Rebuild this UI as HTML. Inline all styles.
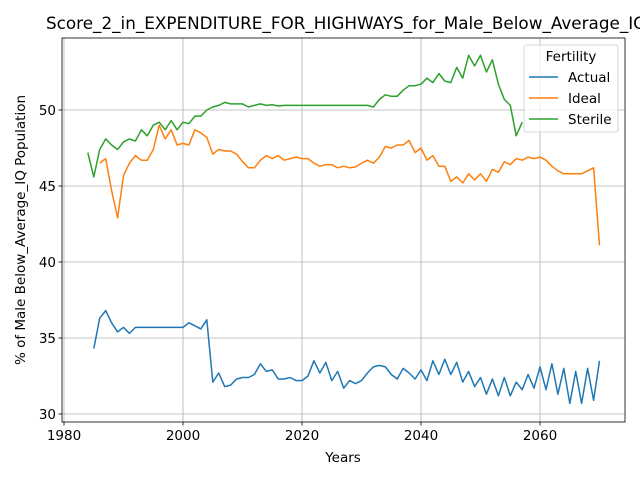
<!DOCTYPE html>
<html><head><meta charset="utf-8"><style>
body{margin:0;background:#fff;}
svg{display:block;font-family:"DejaVu Sans","Liberation Sans",sans-serif;}
</style></head><body>
<svg id="chart" width="640" height="480"></svg>
<script>
const actualYears=[];for(let y=1985;y<=2070;y++)actualYears.push(y);
const actualValues=[34.3,36.3,36.8,36.0,35.4,35.7,35.3,35.7,35.7,35.7,35.7,35.7,35.7,35.7,35.7,35.7,36.0,35.8,35.6,36.2,32.1,32.7,31.8,31.9,32.3,32.4,32.4,32.6,33.3,32.8,32.9,32.3,32.3,32.4,32.2,32.2,32.5,33.5,32.7,33.4,32.2,32.8,31.7,32.2,32.0,32.2,32.7,33.1,33.2,33.1,32.6,32.3,33.0,32.7,32.3,32.9,32.2,33.5,32.6,33.6,32.6,33.4,32.1,32.8,31.8,32.4,31.3,32.3,31.2,32.4,31.2,32.1,31.6,32.6,31.7,33.1,31.6,33.3,31.3,33.0,30.7,32.8,30.7,33.0,30.9,33.5];
const idealYears=[];for(let y=1986;y<=2070;y++)idealYears.push(y);
const idealValues=[46.5,46.8,44.7,42.9,45.7,46.5,47.0,46.7,46.7,47.4,49.0,48.1,48.7,47.7,47.8,47.7,48.7,48.5,48.2,47.1,47.4,47.3,47.3,47.1,46.6,46.2,46.2,46.7,47.0,46.8,47.0,46.7,46.8,46.9,46.8,46.8,46.5,46.3,46.4,46.4,46.2,46.3,46.2,46.25,46.5,46.7,46.5,46.9,47.6,47.5,47.7,47.7,48.0,47.2,47.5,46.7,47.0,46.3,46.3,45.3,45.6,45.2,45.8,45.4,45.8,45.3,46.1,45.9,46.6,46.4,46.8,46.7,46.9,46.8,46.9,46.7,46.3,46.0,45.8,45.8,45.8,45.8,46.0,46.2,41.1];
const sterileYears=[];for(let y=1984;y<=2057;y++)sterileYears.push(y);
const sterileValues=[47.2,45.6,47.4,48.1,47.7,47.4,47.9,48.1,47.96,48.7,48.3,49.0,49.2,48.7,49.3,48.7,49.2,49.1,49.6,49.6,50.0,50.2,50.3,50.5,50.4,50.4,50.4,50.2,50.3,50.4,50.3,50.35,50.26,50.3,50.3,50.3,50.3,50.3,50.3,50.3,50.3,50.3,50.3,50.3,50.3,50.3,50.3,50.3,50.2,50.7,51.0,50.9,50.9,51.3,51.6,51.6,51.7,52.1,51.8,52.4,51.9,51.8,52.8,52.1,53.6,52.9,53.6,52.5,53.3,51.7,50.7,50.3,48.3,49.2];
const xTicks=[1980,2000,2020,2040,2060];
const yTicks=[30,35,40,45,50];
const seriesNames=["Actual","Ideal","Sterile"];
const colors=["#1f77b4","#ff7f0e","#2ca02c"];

const L=62,R=625,T=38,B=422;
const X=y=>64+(y-1980)*5.95;
const Y=v=>110+(50-v)*15.2;
const svg=document.getElementById('chart');
const NS='http://www.w3.org/2000/svg';
function mk(tag,attrs,parent){const e=document.createElementNS(NS,tag);for(const k in attrs)e.setAttribute(k,attrs[k]);(parent||svg).appendChild(e);return e;}
function txt(s,attrs){const e=mk('text',attrs);e.textContent=s;return e;}

xTicks.forEach(t=>{
  const g=mk('line',{x1:X(t),x2:X(t),y1:T,y2:B,stroke:'#b0b0b0','stroke-width':0.8});
  
  
  mk('line',{x1:X(t),x2:X(t),y1:B,y2:B+3.5,stroke:'#000','stroke-width':0.8});
  const l=txt(String(t),{x:X(t),y:B+18,'text-anchor':'middle','font-size':13.5,fill:'#000'});
  
  
});
yTicks.forEach(t=>{
  const g=mk('line',{x1:L,x2:R,y1:Y(t),y2:Y(t),stroke:'#b0b0b0','stroke-width':0.8});
  
  
  mk('line',{x1:L-3.5,x2:L,y1:Y(t),y2:Y(t),stroke:'#000','stroke-width':0.8});
  const l=txt(String(t),{x:L-6,y:Y(t)+5,'text-anchor':'end','font-size':13.5,fill:'#000'});
  
  
});

const data=[[actualYears,actualValues],[idealYears,idealValues],[sterileYears,sterileValues]];
data.forEach((d,i)=>{
  const pts=d[0].map((y,j)=>X(y).toFixed(1)+','+Y(d[1][j]).toFixed(1)).join(' ');
  const p=mk('polyline',{points:pts,fill:'none',stroke:colors[i],'stroke-width':1.5,'stroke-linejoin':'round'});
  
  
});

const frame=mk('rect',{x:L,y:T,width:R-L,height:B-T,fill:'none',stroke:'#000','stroke-width':0.8});



const title=txt('Score_2_in_EXPENDITURE_FOR_HIGHWAYS_for_Male_Below_Average_IQ Population',{x:46,y:29,'font-size':16.5,fill:'#000',textLength:694,lengthAdjust:'spacingAndGlyphs'});


const xl=txt('Years',{x:343,y:462,'text-anchor':'middle','font-size':13.5,fill:'#000'});


const yl=txt('% of Male Below_Average_IQ Population',{x:0,y:0,'text-anchor':'middle','font-size':13.5,fill:'#000',transform:'translate(25,230) rotate(-90)'});



const lg=mk('g',{});


mk('rect',{x:524,y:45,width:94,height:87,rx:2,fill:'#fff','fill-opacity':0.8,stroke:'#ccc','stroke-width':0.8},lg);
const lt=mk('text',{x:571,y:61,'text-anchor':'middle','font-size':13.5,fill:'#000'},lg);lt.textContent='Fertility';
seriesNames.forEach((n,i)=>{
  const yy=77+i*21;
  const e=mk('g',{},lg);
  
  
  mk('line',{x1:529,x2:558,y1:yy,y2:yy,stroke:colors[i],'stroke-width':1.5},e);
  const t=mk('text',{x:568,y:yy+5,'font-size':13.5,fill:'#000'},e);t.textContent=n;
});
</script>
</body></html>
